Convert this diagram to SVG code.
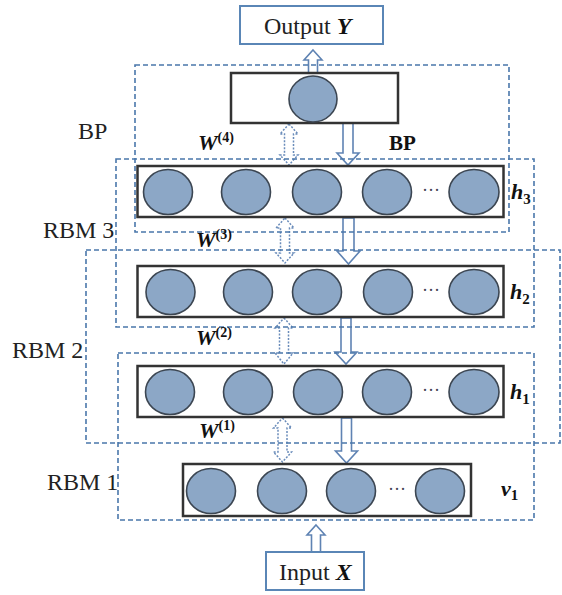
<svg xmlns="http://www.w3.org/2000/svg" width="562" height="595" viewBox="0 0 562 595">
<defs>
<style>
.frame{fill:none;stroke:#4a77ab;stroke-width:1.6;stroke-dasharray:5 3}
.layer{fill:#fff;stroke:#333;stroke-width:2.5}
.io{fill:#fff;stroke:#5a86b6;stroke-width:2}
.n{fill:#8ca7c6;stroke:#3c4652;stroke-width:1.6}
.dbl{fill:#fff;stroke:#6a8cba;stroke-width:1.5;stroke-dasharray:2 1.5}
.one{fill:#fff;stroke:#5f83b3;stroke-width:1.6}
.t{font-family:"Liberation Serif","Times New Roman",serif;font-size:24px;fill:#222}
.m{font-family:"Liberation Serif","Times New Roman",serif;font-weight:bold;font-style:italic;fill:#111}
.s{font-family:"Liberation Serif","Times New Roman",serif;font-weight:bold;font-style:normal;fill:#111}
.dots{font-family:"Liberation Serif",serif;font-size:18px;fill:#445}
</style>
</defs>
<rect width="562" height="595" fill="#fff"/>

<g id="connectors">
<path class="one" d="M313,50 L322,60 L317.5,60 L317.5,73 L308.5,73 L308.5,60 L304,60 Z"/>
<path class="dbl" d="M289,124 L298,134 L293.5,134 L293.5,155 L298,155 L289,165 L280,155 L284.5,155 L284.5,134 L280,134 Z"/>
<path class="one" d="M343,123 L353,123 L353,153 L359,153 L348,165 L337,153 L343,153 Z"/>
<path class="dbl" d="M285,218 L294,228 L289.5,228 L289.5,253 L294,253 L285,263 L276,253 L280.5,253 L280.5,228 L276,228 Z"/>
<path class="one" d="M343,218 L354,218 L354,251 L360,251 L348.5,264 L337,251 L343,251 Z"/>
<path class="dbl" d="M284,318 L293,328 L288.5,328 L288.5,353 L293,353 L284,364 L275,353 L279.5,353 L279.5,328 L275,328 Z"/>
<path class="one" d="M341,318 L351,318 L351,352 L357,352 L346,364 L335,352 L341,352 Z"/>
<path class="dbl" d="M282.5,418 L291.5,428 L287,428 L287,452 L291.5,452 L282.5,462 L273.5,452 L278,452 L278,428 L273.5,428 Z"/>
<path class="one" d="M341.5,418 L351.5,418 L351.5,451 L357.5,451 L346.5,463 L335.5,451 L341.5,451 Z"/>
<path class="one" d="M316,525 L325,535 L320.5,535 L320.5,552 L311.5,552 L311.5,535 L307,535 Z"/>
</g>

<g id="frames">
<rect class="frame" x="135" y="65" width="374" height="167"/>
<rect class="frame" x="116" y="159" width="418" height="168"/>
<rect class="frame" x="86" y="250" width="474" height="193"/>
<rect class="frame" x="118" y="353" width="416" height="167"/>
<text class="t" x="78" y="139">BP</text>
<text class="t" x="43" y="238">RBM 3</text>
<text class="t" x="12" y="358">RBM 2</text>
<text class="t" x="47" y="490">RBM 1</text>
</g>

<g id="output">
<rect class="io" x="240" y="6" width="143" height="38"/>
<text class="t" x="264" y="34">Output <tspan class="m">Y</tspan></text>
</g>

<g id="bp-layer">
<rect class="layer" x="231" y="73" width="167" height="50"/>
<ellipse class="n" cx="313" cy="99" rx="24" ry="23"/>
</g>

<g id="labels">
<text class="m" x="198" y="150" font-size="22">W<tspan class="s" font-size="14" dy="-8">(4)</tspan></text>
<text class="s" x="389" y="150" font-size="21">BP</text>
<text class="m" x="196" y="247" font-size="22">W<tspan class="s" font-size="14" dy="-8">(3)</tspan></text>
<text class="m" x="196" y="345" font-size="22">W<tspan class="s" font-size="14" dy="-8">(2)</tspan></text>
<text class="m" x="199" y="438" font-size="22">W<tspan class="s" font-size="14" dy="-8">(1)</tspan></text>
</g>

<g id="h3">
<rect class="layer" x="137.5" y="166" width="366" height="51"/>
<ellipse class="n" cx="168" cy="192" rx="24.5" ry="22.5"/>
<ellipse class="n" cx="246" cy="192" rx="24.5" ry="22.5"/>
<ellipse class="n" cx="317" cy="192" rx="24.5" ry="22.5"/>
<ellipse class="n" cx="387" cy="192" rx="24.5" ry="22.5"/>
<ellipse class="n" cx="474" cy="192" rx="25" ry="22.5"/>
<text class="dots" x="431" y="196" text-anchor="middle">···</text>
<text class="m" x="511" y="199" font-size="22">h<tspan class="s" font-size="15" dy="5">3</tspan></text>
</g>

<g id="h2">
<rect class="layer" x="137.5" y="266" width="366" height="51"/>
<ellipse class="n" cx="170.5" cy="292" rx="24.5" ry="22.5"/>
<ellipse class="n" cx="248" cy="292" rx="24.5" ry="22.5"/>
<ellipse class="n" cx="317" cy="292" rx="24.5" ry="22.5"/>
<ellipse class="n" cx="388" cy="292" rx="24.5" ry="22.5"/>
<ellipse class="n" cx="474" cy="292" rx="25" ry="22.5"/>
<text class="dots" x="431" y="296" text-anchor="middle">···</text>
<text class="m" x="510" y="299" font-size="22">h<tspan class="s" font-size="15" dy="5">2</tspan></text>
</g>

<g id="h1">
<rect class="layer" x="137.5" y="366" width="366" height="51"/>
<ellipse class="n" cx="170" cy="392" rx="24.5" ry="22.5"/>
<ellipse class="n" cx="248" cy="392" rx="24.5" ry="22.5"/>
<ellipse class="n" cx="318" cy="392" rx="24.5" ry="22.5"/>
<ellipse class="n" cx="387" cy="392" rx="24.5" ry="22.5"/>
<ellipse class="n" cx="474" cy="392" rx="25" ry="22.5"/>
<text class="dots" x="431" y="396" text-anchor="middle">···</text>
<text class="m" x="510" y="399" font-size="22">h<tspan class="s" font-size="15" dy="5">1</tspan></text>
</g>

<g id="v1">
<rect class="layer" x="183" y="464" width="288" height="52"/>
<ellipse class="n" cx="211" cy="491" rx="24.5" ry="22.5"/>
<ellipse class="n" cx="282" cy="491" rx="24.5" ry="22.5"/>
<ellipse class="n" cx="351" cy="491" rx="24.5" ry="22.5"/>
<ellipse class="n" cx="440" cy="491" rx="24.5" ry="22.5"/>
<text class="dots" x="397" y="495" text-anchor="middle">···</text>
<text class="m" x="501" y="496" font-size="22">v<tspan class="s" font-size="15" dy="4">1</tspan></text>
</g>

<g id="input">
<rect class="io" x="266" y="552" width="98" height="38"/>
<text class="t" x="279" y="580">Input <tspan class="m">X</tspan></text>
</g>
</svg>
